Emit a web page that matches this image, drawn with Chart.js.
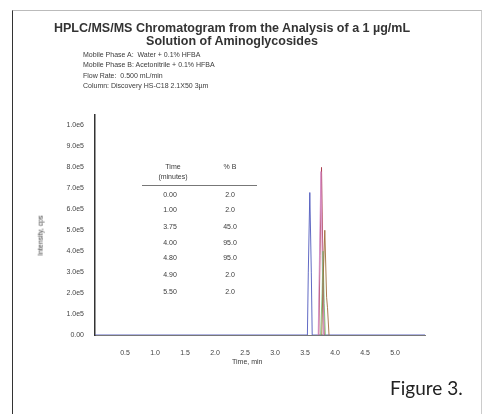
<!DOCTYPE html>
<html>
<head>
<meta charset="utf-8">
<script src="https://cdn.jsdelivr.net/npm/chart.js@4.4.0/dist/chart.umd.min.js"></script>
<style>
  body { margin: 0; background: #fff; }
  #wrap { position: relative; width: 487px; height: 414px; overflow: hidden; font-family: "Liberation Sans", Arial, sans-serif; color: #3a3a3a; }
  #frame { position: absolute; left: 12px; top: 10px; width: 468px; height: 420px; border-left: 1.5px solid #333; border-top: 1px solid #bbb; border-right: 1px solid #ccc; }
  canvas { position: absolute; left: 0; top: 0; }
  .t { position: absolute; white-space: nowrap; }
  .title { font-weight: bold; font-size: 12.5px; color: #333; left: 0; width: 464px; text-align: center; }
  .cond { font-size: 7px; left: 83px; line-height: 10px; }
  .tbl { font-size: 7px; text-align: center; width: 60px; line-height: 10px; }
  #fig { font-family: Lato, "Open Sans", sans-serif; font-size: 19px; color: #222; left: 390px; top: 376px; }
</style>
</head>
<body>
<div id="wrap">
  <div id="frame"></div>
  <canvas id="chromChart" width="487" height="414"></canvas>
  <div class="t title" style="top:21px">HPLC/MS/MS Chromatogram from the Analysis of a 1 µg/mL</div>
  <div class="t title" style="top:34px">Solution of Aminoglycosides</div>
  <div class="t cond" style="top:50px">Mobile Phase A:&nbsp; Water + 0.1% HFBA</div>
  <div class="t cond" style="top:60px">Mobile Phase B: Acetonitrile + 0.1% HFBA</div>
  <div class="t cond" style="top:71px">Flow Rate:&nbsp; 0.500 mL/min</div>
  <div class="t cond" style="top:81px">Column: Discovery HS-C18 2.1X50 3µm</div>
  <div id="gradTable"></div>
  <div class="t" style="font-size:7px; left:20px; top:232px; transform:rotate(-90deg); transform-origin:center;">Intensity, cps</div>
  <div class="t" style="font-size:7px; left:232px; top:358px;">Time, min</div>
  <div class="t" id="fig">Figure 3.</div>
</div>
<script>
// Gradient table
const gradTimes = ['0.00', '1.00', '3.75', '4.00', '4.80', '4.90', '5.50'];
const gradPctB = ['2.0', '2.0', '45.0', '95.0', '95.0', '2.0', '2.0'];
const gradRowTops = [190, 205, 222, 238, 253, 270, 287];

// Axis ticks
const xTickValues = [0.5, 1.0, 1.5, 2.0, 2.5, 3.0, 3.5, 4.0, 4.5, 5.0];
const yTickValues = [0, 1e5, 2e5, 3e5, 4e5, 5e5, 6e5, 7e5, 8e5, 9e5, 1e6];

// Traces (time in min, intensity in cps)
const blueTime = [0, 3.54, 3.555, 3.58, 3.605, 3.62, 5.5];
const blueInt = [0, 0, 3.0e5, 6.8e5, 3.0e5, 0, 0];
const pinkTime = [3.72, 3.74, 3.765, 3.79, 3.81];
const pinkInt = [0, 3.5e5, 7.8e5, 3.0e5, 0];
const redTime = [3.73, 3.75, 3.775, 3.80, 3.82];
const redInt = [0, 3.8e5, 8.0e5, 3.2e5, 0];
const greenTime = [3.76, 3.785, 3.80, 3.82, 3.84];
const greenInt = [0, 2.0e5, 4.0e5, 1.5e5, 0];
const brownTime = [3.78, 3.80, 3.83, 3.86, 3.875, 3.90];
const brownInt = [0, 2.5e5, 5.0e5, 1.8e5, 1.3e5, 0];

function buildTable() {
    const t = document.getElementById('gradTable');
    let html = '';
    html += '<div class="t tbl" style="left:143px; top:162px">Time<br>(minutes)</div>';
    html += '<div class="t tbl" style="left:200px; top:162px">% B</div>';
    html += '<div class="t" style="left:142px; top:185px; width:115px; border-top:1px solid #777"></div>';
    gradTimes.forEach((tm, i) => {
        html += `<div class="t tbl" style="left:140px; top:${gradRowTops[i]}px">${tm}</div>`;
        html += `<div class="t tbl" style="left:200px; top:${gradRowTops[i]}px">${gradPctB[i]}</div>`;
    });
    t.innerHTML = html;
}

function pts(xs, ys) {
    return xs.map((x, i) => ({ x: x, y: ys[i] }));
}

function trace(label, xs, ys, color) {
    return {
        label: label,
        data: pts(xs, ys),
        borderColor: color,
        borderWidth: 1,
        pointRadius: 0,
        tension: 0,
        fill: false
    };
}

document.addEventListener('DOMContentLoaded', function() {
    buildTable();
    const ctx = document.getElementById('chromChart').getContext('2d');
    new Chart(ctx, {
        type: 'line',
        data: {
            datasets: [
                trace('brown', brownTime, brownInt, 'rgba(160, 110, 60, 0.9)'),
                trace('green', greenTime, greenInt, 'rgba(110, 190, 110, 0.8)'),
                trace('pink', pinkTime, pinkInt, 'rgba(215, 140, 200, 0.9)'),
                trace('red', redTime, redInt, 'rgba(170, 60, 80, 0.9)'),
                trace('blue', blueTime, blueInt, 'rgba(80, 90, 190, 0.9)')
            ]
        },
        options: {
            responsive: false,
            animation: false,
            layout: { padding: { left: 0, right: 62, top: 115, bottom: 34 } },
            plugins: { legend: { display: false }, tooltip: { enabled: false } },
            scales: {
                x: {
                    type: 'linear',
                    min: 0,
                    max: 5.5,
                    grid: { display: false },
                    border: { display: true, color: '#777', width: 1 },
                    afterBuildTicks: s => { s.ticks = xTickValues.map(v => ({ value: v })); },
                    afterFit: s => { s.height = 45; },
                    ticks: {
                        font: { size: 7, family: 'Liberation Sans' },
                        color: '#444',
                        padding: 6,
                        maxRotation: 0,
                        callback: v => v.toFixed(1)
                    }
                },
                y: {
                    min: 0,
                    max: 1.05e6,
                    grid: { display: false },
                    border: { display: true, color: '#333', width: 1.5 },
                    afterBuildTicks: s => { s.ticks = yTickValues.map(v => ({ value: v })); },
                    afterFit: s => { s.width = 95; },
                    ticks: {
                        font: { size: 7, family: 'Liberation Sans' },
                        color: '#444',
                        padding: 3,
                        callback: v => v === 0 ? '0.00' : v.toExponential(1).replace('e+', 'e')
                    }
                }
            }
        }
    });
});
</script>
</body>
</html>
